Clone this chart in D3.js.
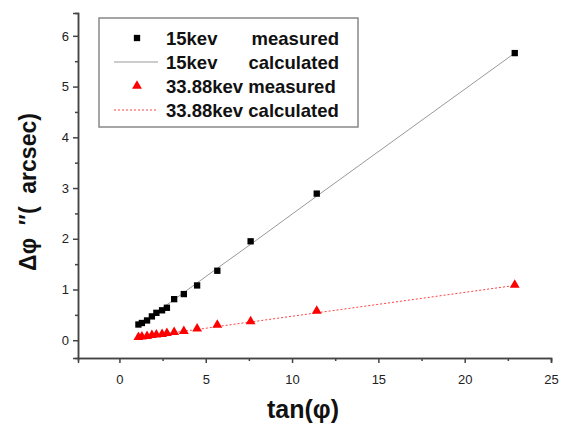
<!DOCTYPE html>
<html>
<head>
<meta charset="utf-8">
<script src="https://cdn.jsdelivr.net/npm/d3@7"></script>
<style>
  body { margin: 0; background: #fff; }
  svg { display: block; font-family: "Liberation Sans", Arial, sans-serif; }
</style>
</head>
<body>
<div id="chart"></div>
<script>
// tan(phi) values and measured / calculated shifts (arcsec)
const tanPhi = [1.10, 1.30, 1.60, 1.88, 2.14, 2.47, 2.75, 3.17, 3.73, 4.50, 5.67, 7.60, 11.43, 22.90];
const measured15 = [0.31, 0.34, 0.39, 0.47, 0.54, 0.59, 0.64, 0.81, 0.91, 1.08, 1.37, 1.95, 2.89, 5.66];
const calc15 = [0.29, 0.34, 0.41, 0.48, 0.55, 0.63, 0.70, 0.80, 0.94, 1.13, 1.42, 1.89, 2.84, 5.66];
const measured33 = [0.06, 0.07, 0.08, 0.10, 0.11, 0.12, 0.14, 0.16, 0.18, 0.23, 0.30, 0.37, 0.58, 1.09];
const calc33 = [0.06, 0.07, 0.08, 0.09, 0.10, 0.12, 0.13, 0.15, 0.18, 0.21, 0.27, 0.36, 0.54, 1.08];

const xTicks = [0, 5, 10, 15, 20, 25];
const yTicks = [0, 1, 2, 3, 4, 5, 6];
const legendLabels = [
  ["15kev", "measured"],
  ["15kev", "calculated"],
  ["33.88kev measured", ""],
  ["33.88kev calculated", ""]
];

const width = 565, height = 431;
const svg = d3.select("#chart").append("svg")
  .attr("width", width)
  .attr("height", height);

const x = d3.scaleLinear().domain([-2.4, 25]).range([78, 551]);
const y = d3.scaleLinear().domain([-0.35, 6.45]).range([358, 13]);

const axisColor = "#444";

// x axis with minor ticks
const xAxis = svg.append("g").attr("transform", `translate(0,${y.range()[0]})`);
xAxis.call(d3.axisBottom(x).tickValues(d3.range(2.5, 25, 5)).tickSize(3).tickFormat(""));
xAxis.call(g => {
  g.append("g").call(d3.axisBottom(x).tickValues(xTicks).tickSize(5).tickFormat(d3.format("d")));
});
xAxis.selectAll(".domain").attr("stroke", axisColor).attr("stroke-width", 1.5);
xAxis.selectAll("line").attr("stroke", axisColor).attr("stroke-width", 1.5);
xAxis.selectAll("text").attr("font-size", 13).attr("fill", "#222").attr("dy", "1.35em");

// y axis with minor ticks
const yAxis = svg.append("g").attr("transform", `translate(${x.range()[0]},0)`);
yAxis.call(d3.axisLeft(y).tickValues(d3.range(0.5, 6.45, 1)).tickSize(3).tickFormat(""));
yAxis.call(g => {
  g.append("g").call(d3.axisLeft(y).tickValues(yTicks).tickSize(5).tickFormat(d3.format("d")));
});
yAxis.selectAll(".domain").attr("stroke", axisColor).attr("stroke-width", 1.5);
yAxis.selectAll("line").attr("stroke", axisColor).attr("stroke-width", 1.5);
yAxis.selectAll("text").attr("font-size", 13).attr("fill", "#222").attr("x", -9);

// calculated lines
const line = d3.line().x(d => x(d[0])).y(d => y(d[1]));
svg.append("path")
  .datum(tanPhi.map((t, i) => [t, calc15[i]]))
  .attr("d", line)
  .attr("fill", "none")
  .attr("stroke", "#999")
  .attr("stroke-width", 1);
svg.append("path")
  .datum(tanPhi.map((t, i) => [t, calc33[i]]))
  .attr("d", line)
  .attr("fill", "none")
  .attr("stroke", "#ff4040")
  .attr("stroke-width", 1)
  .attr("stroke-dasharray", "2,2");

// measured markers
const sq = d3.symbol().type(d3.symbolSquare).size(40);
const tri = d3.symbol().type(d3.symbolTriangle).size(42);
svg.append("g").selectAll("path")
  .data(tanPhi.map((t, i) => [t, measured15[i]]))
  .join("path")
  .attr("d", sq)
  .attr("transform", d => `translate(${x(d[0])},${y(d[1])})`)
  .attr("fill", "#000");
svg.append("g").selectAll("path")
  .data(tanPhi.map((t, i) => [t, measured33[i]]))
  .join("path")
  .attr("d", tri)
  .attr("transform", d => `translate(${x(d[0])},${y(d[1])})`)
  .attr("fill", "#ff0000");

// legend
const lg = svg.append("g");
lg.append("rect")
  .attr("x", 99).attr("y", 18).attr("width", 259).attr("height", 109)
  .attr("fill", "#fff").attr("stroke", "#888").attr("stroke-width", 1.5);
const rowY = [38, 62, 86, 110];
lg.append("path").attr("d", sq).attr("transform", `translate(137,${rowY[0]})`).attr("fill", "#000");
lg.append("line").attr("x1", 114).attr("x2", 158).attr("y1", rowY[1]).attr("y2", rowY[1])
  .attr("stroke", "#999").attr("stroke-width", 1);
lg.append("path").attr("d", tri).attr("transform", `translate(137,${rowY[2]})`).attr("fill", "#ff0000");
lg.append("line").attr("x1", 114).attr("x2", 158).attr("y1", rowY[3]).attr("y2", rowY[3])
  .attr("stroke", "#ff4040").attr("stroke-width", 1).attr("stroke-dasharray", "2,2");

legendLabels.forEach((lab, i) => {
  lg.append("text")
    .attr("x", 166).attr("y", rowY[i]).attr("dy", "0.36em")
    .attr("font-size", 18.5).attr("font-weight", "bold").attr("fill", "#111")
    .text(lab[0]);
  if (lab[1]) {
    lg.append("text")
      .attr("x", 339).attr("y", rowY[i]).attr("dy", "0.36em")
      .attr("text-anchor", "end")
      .attr("font-size", 18.5).attr("font-weight", "bold").attr("fill", "#111")
      .text(lab[1]);
  }
});

// axis titles
svg.append("text")
  .attr("x", 303).attr("y", 418)
  .attr("text-anchor", "middle")
  .attr("font-size", 25).attr("font-weight", "bold").attr("fill", "#111")
  .text("tan(φ)");

svg.append("text")
  .attr("transform", "translate(36,192) rotate(-90)")
  .attr("text-anchor", "middle")
  .attr("font-size", 23).attr("font-weight", "bold").attr("fill", "#111")
  .attr("xml:space", "preserve")
  .style("white-space", "pre")
  .text("Δφ  ″(  arcsec)");
</script>
</body>
</html>
